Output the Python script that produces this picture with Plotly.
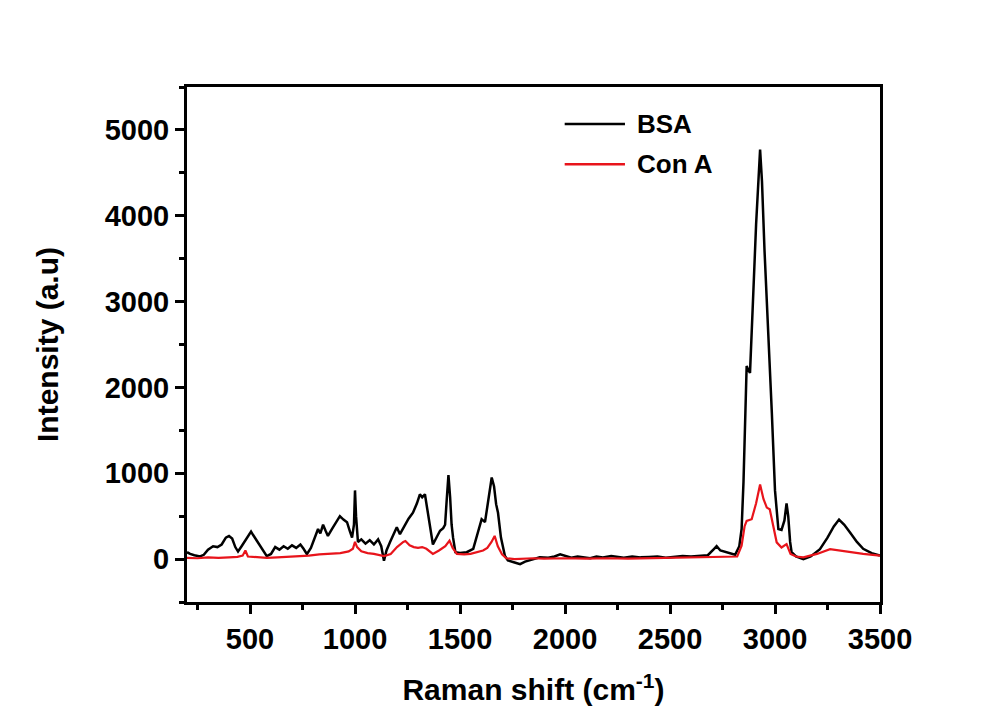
import plotly.graph_objects as go

# ---- data ----
bsa_x = [200, 215, 235, 262, 280, 300, 324, 345, 365, 385, 400, 415, 430, 443, 460, 480, 495, 505, 515, 530,
         550, 565, 580, 600, 620, 640, 660, 680, 700, 720, 740, 755, 771, 790, 810, 824, 835, 848, 860, 871,
         890, 910, 928, 945, 962, 975, 986, 995, 1000, 1005, 1014, 1030, 1050, 1070, 1090, 1110, 1125, 1138,
         1150, 1167, 1185, 1199, 1214, 1235, 1255, 1276, 1295, 1309, 1320, 1333, 1347, 1360, 1371, 1390, 1405,
         1420, 1429, 1437, 1445, 1453, 1460, 1467, 1478, 1500, 1532, 1563, 1585, 1603, 1619, 1635, 1651, 1662,
         1672, 1681, 1695, 1714, 1728, 1760, 1786, 1810, 1848, 1880, 1920, 1950, 1977, 2000, 2030, 2060, 2090,
         2120, 2150, 2180, 2220, 2250, 2280, 2320, 2360, 2400, 2440, 2480, 2520, 2560, 2600, 2643, 2680, 2710,
         2722, 2740, 2755, 2770, 2790, 2810, 2830, 2841, 2850, 2857, 2865, 2873, 2881, 2895, 2910, 2929, 2938,
         2950, 2968, 2985, 3000, 3016, 3031, 3045, 3055, 3063, 3072, 3079, 3100, 3135, 3170, 3214, 3250, 3280,
         3305, 3330, 3360, 3390, 3420, 3460, 3500]
bsa_y = [80, 60, 45, 30, 50, 110, 150, 140, 170, 250, 270, 240, 140, 88, 150, 230, 290, 320, 280, 220,
         140, 80, 35, 60, 140, 110, 150, 120, 160, 130, 170, 120, 58, 130, 250, 350, 300, 400, 330, 270,
         350, 430, 500, 460, 430, 330, 250, 400, 800, 500, 200, 230, 180, 220, 170, 230, 150, -20,
         100, 200, 300, 370, 290, 380, 470, 540, 650, 755, 720, 755, 540, 330, 170, 260, 330,
         360, 400, 700, 980, 720, 400, 250, 80, 70, 80, 120, 300, 465, 430, 700, 950, 850,
         640, 540, 250, 35, -15, -40, -60, -30, 0, 20, 15, 30, 55, 40, 15, 30, 20,
         10, 30, 20, 35, 25, 15, 30, 20, 25, 30, 15, 25, 35, 30, 40, 45, 120,
         150, 100, 90, 80, 60, 50, 150, 350, 900, 1510, 2250, 2200, 2170, 3000, 3900, 4770, 4400,
         3600, 2670, 1700, 800, 350, 340, 450, 650, 500, 200, 80, 30, 0, 30, 115, 250, 380,
         460, 400, 300, 200, 120, 70, 40]

cona_x = [200, 250, 300, 350, 400, 440, 465, 478, 490, 530, 580, 630, 680, 730, 780, 830, 880, 930, 970,
          990, 1000, 1010, 1030, 1060, 1090, 1120, 1138, 1170, 1200, 1230, 1240, 1260, 1280, 1300, 1320,
          1340, 1360, 1371, 1400, 1430, 1450, 1465, 1485, 1520, 1550, 1580, 1610, 1630, 1650, 1665, 1680,
          1700, 1720, 1760, 1800, 1850, 1900, 2000, 2100, 2200, 2300, 2400, 2500, 2600, 2700, 2780, 2820,
          2841, 2855, 2865, 2889, 2910, 2929, 2945, 2961, 2975, 2990, 3008, 3031, 3055, 3074, 3100, 3135,
          3200, 3262, 3300, 3350, 3420, 3500]
cona_y = [15, 10, 20, 15, 20, 25, 40, 100, 30, 20, 15, 20, 25, 30, 40, 55, 60, 70, 90,
          120, 200, 140, 90, 70, 60, 45, 35, 60, 140, 200, 210, 160, 140, 130, 140,
          120, 80, 60, 100, 150, 215, 130, 60, 55, 60, 80, 100, 130, 200, 270, 150,
          55, 10, 0, 5, 10, 5, 10, 5, 10, 5, 10, 10, 15, 20, 20, 30,
          155, 380, 445, 465, 650, 870, 700, 600, 580, 400, 195, 135, 175, 60, 30, 20,
          60, 115, 100, 80, 60, 40]

series_names = ["BSA", "Con A"]
x_ticks = [500, 1000, 1500, 2000, 2500, 3000, 3500]
y_ticks = [0, 1000, 2000, 3000, 4000, 5000]

FONT = "Liberation Sans, Arial, sans-serif"

fig = go.Figure()
fig.add_trace(go.Scatter(x=bsa_x, y=bsa_y, mode="lines", name=series_names[0],
                         line=dict(color="black", width=2.5), showlegend=False))
fig.add_trace(go.Scatter(x=cona_x, y=cona_y, mode="lines", name=series_names[1],
                         line=dict(color="#e8141b", width=2.2), showlegend=False))

axis_common = dict(showline=True, linecolor="black", linewidth=3, mirror=True,
                   ticks="outside", tickwidth=3, tickcolor="black", ticklen=9,
                   showgrid=False, zeroline=False,
                   tickfont=dict(family=FONT, size=29, color="black", weight="bold"))

fig.update_xaxes(range=[200, 3500], tickvals=x_ticks, ticktext=[str(v) for v in x_ticks],
                 minor=dict(ticks="outside", ticklen=5, tickwidth=3, tickcolor="black", dtick=500, tick0=250),
                 title=dict(text="<b>Raman shift (cm<sup>-1</sup>)</b>", standoff=26,
                            font=dict(family=FONT, size=30, color="black")),
                 **axis_common)
fig.update_yaxes(range=[-500, 5500], tickvals=y_ticks, ticktext=[str(v) for v in y_ticks],
                 minor=dict(ticks="outside", ticklen=5, tickwidth=3, tickcolor="black", dtick=500, tick0=500),
                 title=dict(text="<b>Intensity (a.u)</b>", standoff=38,
                            font=dict(family=FONT, size=30, color="black")),
                 **axis_common)

# manual legend (line samples + labels)
legend_rows = [(series_names[0], "black", 0.928), (series_names[1], "#e8141b", 0.850)]
for name, col, yy in legend_rows:
    fig.add_shape(type="line", xref="paper", yref="paper", x0=0.545, x1=0.632, y0=yy, y1=yy,
                  line=dict(color=col, width=2.5))
    fig.add_annotation(xref="paper", yref="paper", x=0.646, y=yy, text="<b>%s</b>" % name,
                       showarrow=False, xanchor="left", yanchor="middle",
                       font=dict(family=FONT, size=26, color="black"))

fig.update_layout(width=1004, height=713, autosize=False,
                  margin=dict(l=187, r=124, t=87, b=111),
                  paper_bgcolor="white", plot_bgcolor="white",
                  showlegend=False)

fig.write_html("out.html")
